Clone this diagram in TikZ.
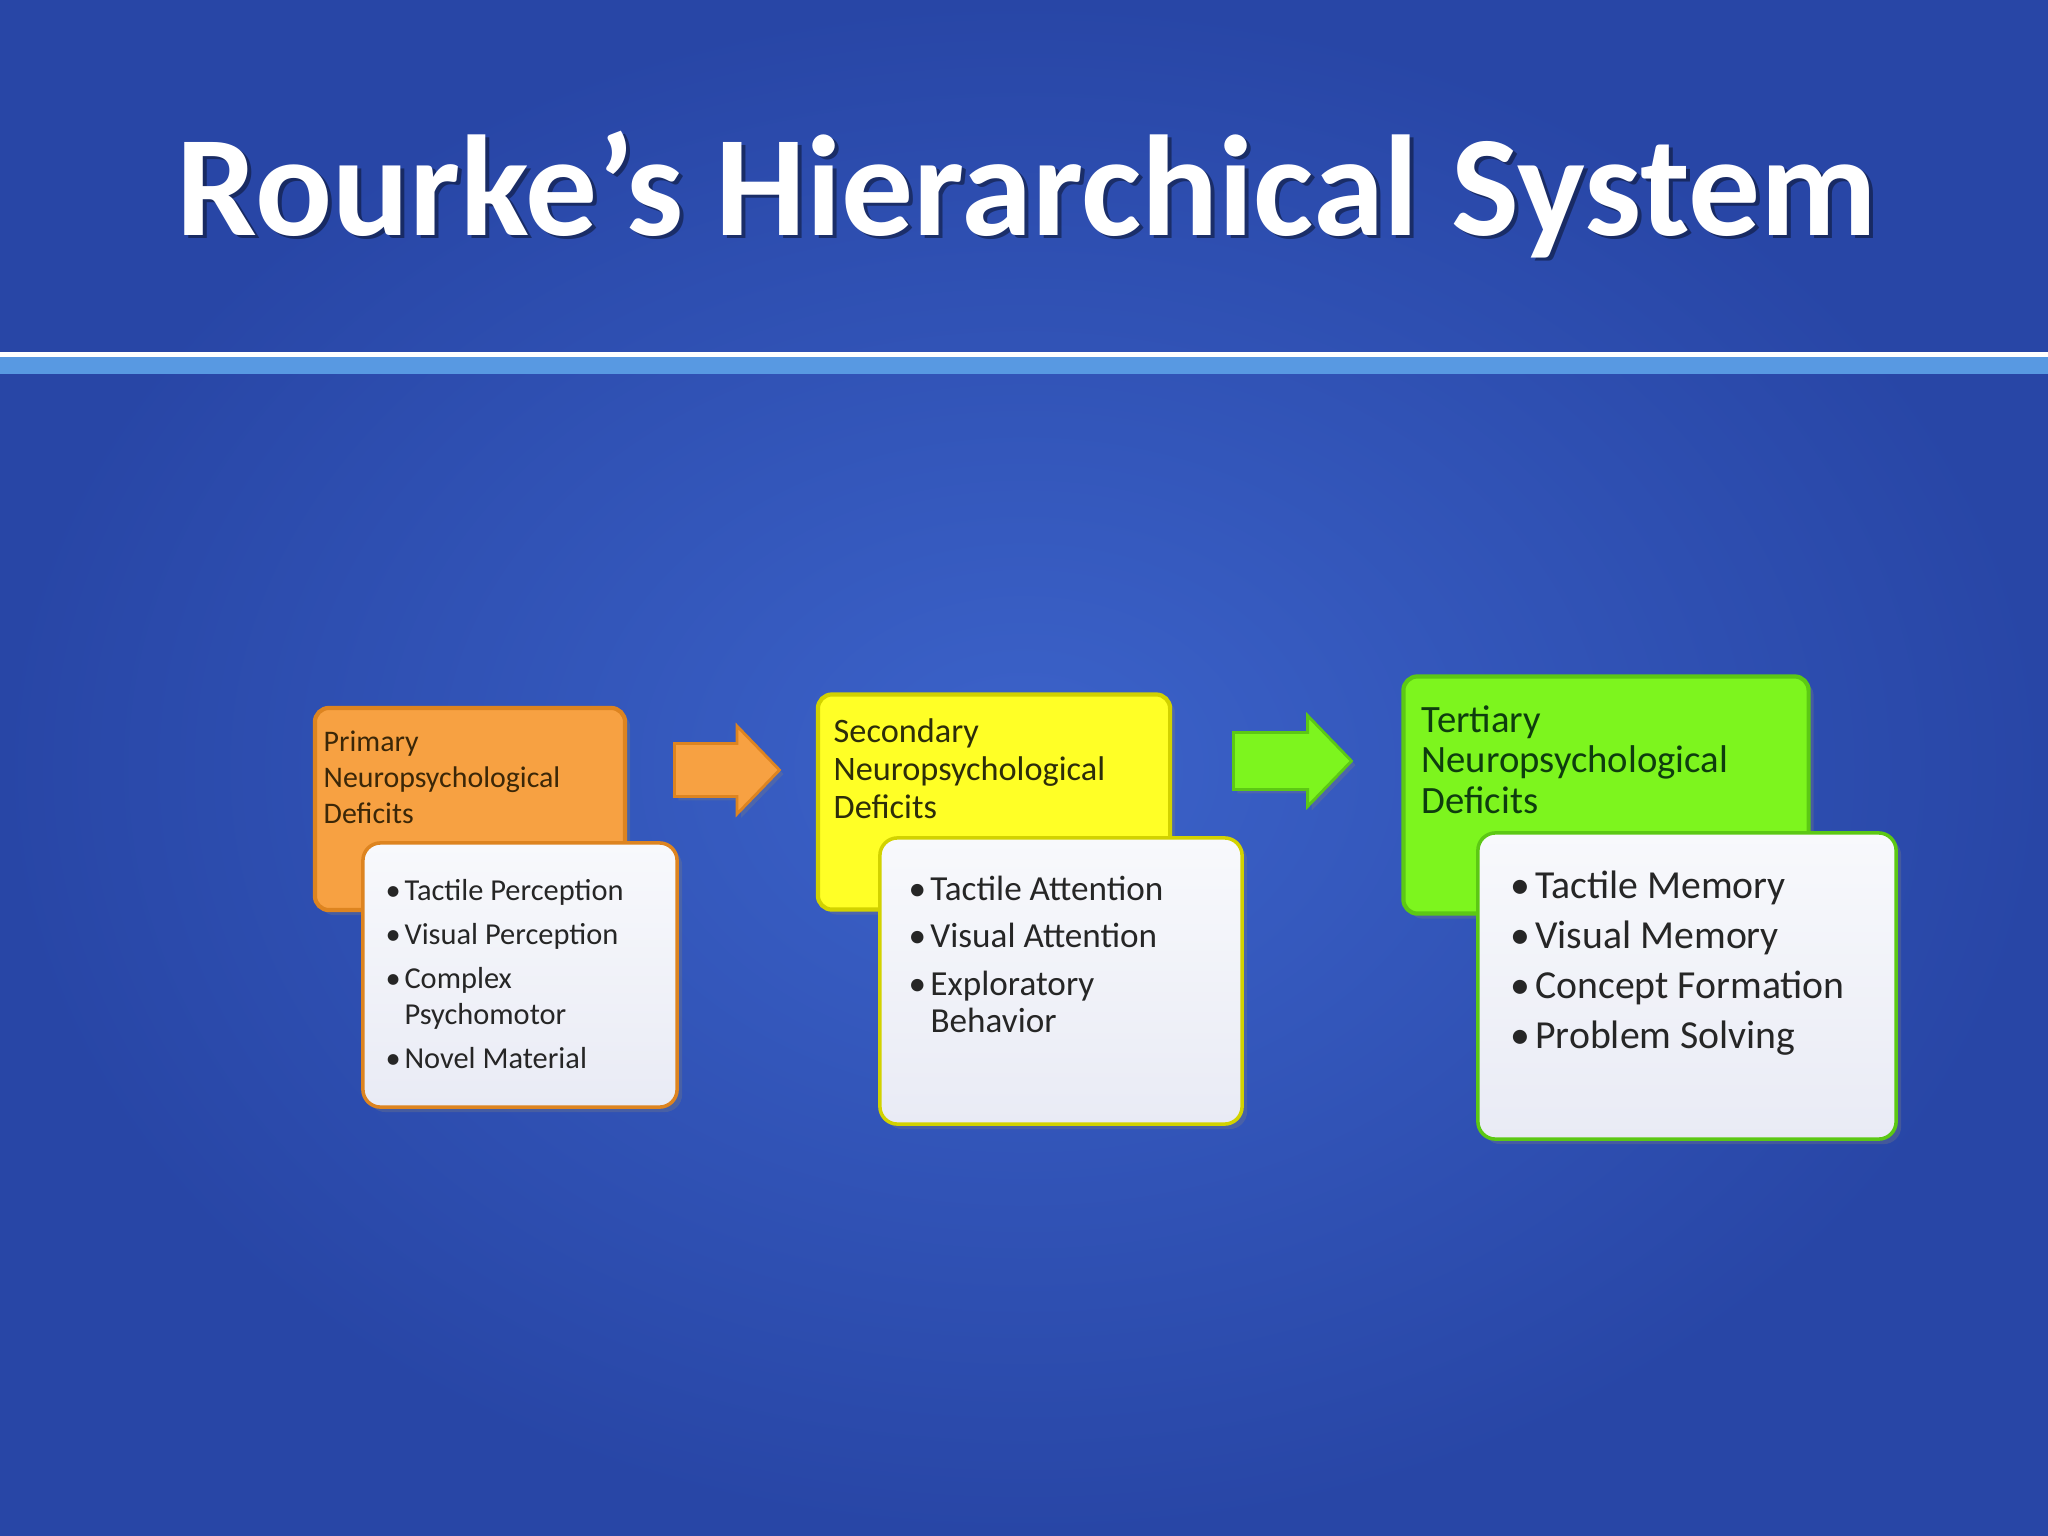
\documentclass[tikz,border=0pt]{standalone}
\usepackage{fontspec}
\setmainfont{Carlito}
\usetikzlibrary{positioning,shapes.arrows,shadows}

\definecolor{bgout}{HTML}{2846A6}
\definecolor{bgin}{HTML}{3C63CA}
\definecolor{bandblue}{HTML}{5899E2}
\definecolor{orangefill}{HTML}{F7A142}
\definecolor{orangeedge}{HTML}{DD8420}
\definecolor{yellowfill}{HTML}{FFFF26}
\definecolor{yellowedge}{HTML}{D2D200}
\definecolor{greenfill}{HTML}{7DF51E}
\definecolor{greenedge}{HTML}{5CC814}
\definecolor{listfill}{HTML}{E9EBF5}
\definecolor{listtop}{HTML}{F8F9FC}
\definecolor{brownink}{HTML}{3B2708}
\definecolor{oliveink}{HTML}{2D2D0A}
\definecolor{greenink}{HTML}{0E3D0E}
\definecolor{bulletink}{HTML}{262626}

\tikzstyle{deficit} = [rectangle, draw, line width=1.2pt, rounded corners=4pt, drop shadow={shadow xshift=0.05cm, shadow yshift=-0.05cm, opacity=0.3}]
\tikzstyle{list} = [rectangle, draw, line width=1pt, top color=listtop, bottom color=listfill, rounded corners=5pt, drop shadow={shadow xshift=0.05cm, shadow yshift=-0.05cm, opacity=0.3}]
\tikzstyle{heading} = [anchor=base west, inner sep=0, align=left]
\tikzstyle{items} = [anchor=base west, inner sep=0, align=left, text=bulletink]
\tikzstyle{flow} = [single arrow, draw, line width=0.8pt, inner xsep=0, anchor=tail, single arrow tip angle=92, drop shadow={shadow xshift=0.04cm, shadow yshift=-0.04cm, opacity=0.3}]

\newcommand{\bul}{\makebox[0.62em][l]{•}}
\newcommand{\cont}{\hspace*{0.62em}}

\begin{document}
\begin{tikzpicture}[x=0.01cm, y=-0.01cm]
	\useasboundingbox (0,0) rectangle (2048,1536);
	% slide background
	\shade[inner color=bgin, outer color=bgout] (0,0) rectangle (2048,1536);
	\fill[white] (0,352) rectangle (2048,357);
	\fill[bandblue] (0,357) rectangle (2048,374);
	
	\node[anchor=base west, inner sep=0, font=\fontsize{40.8}{48}\selectfont\bfseries, text=black, opacity=0.4] (titleshadow) at (180,238) {Rourke’s Hierarchical System};
	\node[anchor=base west, inner sep=0, font=\fontsize{40.8}{48}\selectfont\bfseries, text=white] (title) at (176,235) {Rourke’s Hierarchical System};
	
	% primary
	\node [deficit, fill=orangefill, draw=orangeedge, minimum width=3.10cm, minimum height=2.02cm] (primary) at (470,809) {};
	\node [heading, text=brownink, font=\fontsize{8.5}{10.1}\selectfont] (primaryhead) at (323,823) {Primary\\Neuropsychological\\Deficits};
	\node [list, draw=orangeedge, minimum width=3.14cm, minimum height=2.64cm] (primarylist) at (520,975) {};
	\node [items, font=\fontsize{8.65}{10.2}\selectfont] (primaryitems) at (385,1068) {\bul Tactile Perception\\[2.3pt]\bul Visual Perception\\[2.3pt]\bul Complex\\\cont Psychomotor\\[2.3pt]\bul Novel Material};
	
	% secondary
	\node [deficit, fill=yellowfill, draw=yellowedge, minimum width=3.52cm, minimum height=2.15cm] (secondary) at (994,802) {};
	\node [heading, text=oliveink, font=\fontsize{9.75}{10.7}\selectfont] (secondaryhead) at (833,818) {Secondary\\Neuropsychological\\Deficits};
	\node [list, draw=yellowedge, minimum width=3.62cm, minimum height=2.86cm] (secondarylist) at (1061,981) {};
	\node [items, font=\fontsize{10}{10.5}\selectfont] (secondaryitems) at (908,1032) {\bul Tactile Attention\\[3pt]\bul Visual Attention\\[3pt]\bul Exploratory\\\cont Behavior};
	
	% tertiary
	\node [deficit, fill=greenfill, draw=greenedge, minimum width=4.05cm, minimum height=2.37cm] (tertiary) at (1606,795) {};
	\node [heading, text=greenink, font=\fontsize{11}{11.5}\selectfont] (tertiaryhead) at (1421,813) {Tertiary\\Neuropsychological\\Deficits};
	\node [list, draw=greenedge, minimum width=4.18cm, minimum height=3.06cm] (tertiarylist) at (1687,986) {};
	\node [items, font=\fontsize{11.3}{14.2}\selectfont] (tertiaryitems) at (1510,1048) {\bul Tactile Memory\\\bul Visual Memory\\\bul Concept Formation\\\bul Problem Solving};
	
	% arrows between the stages
	\node [flow, fill=orangefill, draw=orangeedge, inner ysep=0.25cm, single arrow head extend=0.175cm, minimum height=1.05cm] (firststep) at (673,770) {};
	\node [flow, fill=greenfill, draw=greenedge, inner ysep=0.27cm, single arrow head extend=0.17cm, minimum height=1.18cm] (secondstep) at (1232,761) {};
\end{tikzpicture}
\end{document}
